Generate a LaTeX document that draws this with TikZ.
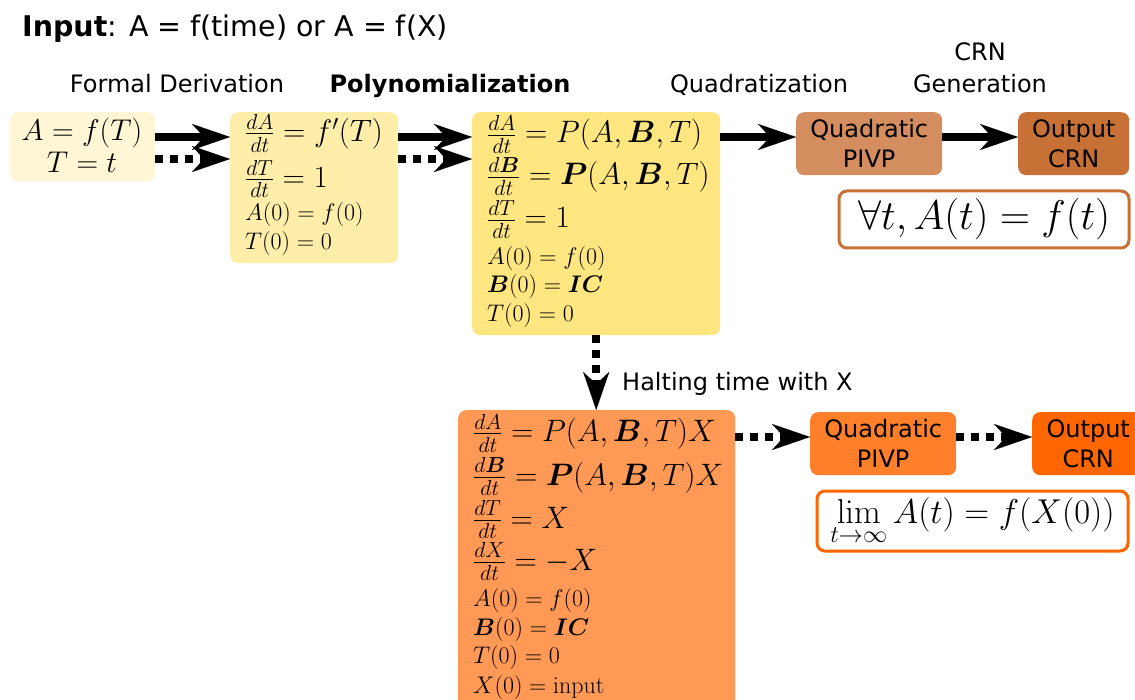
\RequirePackage{fix-cm}
\documentclass[tikz,border=0pt]{standalone}
\usepackage{amsmath,bm}
\usepackage[no-math]{fontspec}
\setmainfont{DejaVu Sans}
\usetikzlibrary{arrows.meta}
\definecolor{cA}{HTML}{FFF6D5}
\definecolor{cB}{HTML}{FFEEAA}
\definecolor{cC}{HTML}{FFE680}
\definecolor{cQ}{HTML}{D38D5F}
\definecolor{cO}{HTML}{C87137}
\definecolor{cD}{HTML}{FF9955}
\definecolor{cQb}{HTML}{FF7F2A}
\definecolor{cOb}{HTML}{FF6600}
\tikzset{
  box/.style={anchor=north west, rounded corners=8pt, inner sep=0pt},
  eq/.style={anchor=base west, inner sep=0pt, font=\fontsize{24}{28}\selectfont},
  eqf/.style={anchor=base west, inner sep=0pt, font=\fontsize{31}{36}\selectfont},
  lbl/.style={anchor=base, inner sep=0pt, font=\fontsize{24}{30}\selectfont},
  tbox/.style={rounded corners=8pt, inner sep=0pt, align=center, font=\fontsize{24}{30}\selectfont},
  fbox/.style={rounded corners=8pt, inner sep=0pt, draw, line width=3pt, fill=white},
  arr/.style={line width=8pt, -{Stealth[length=38pt,width=26pt,inset=12pt,line width=0.01pt]}},
  dotarr/.style={arr, dash pattern=on 8pt off 7pt},
}
\begin{document}
\begin{tikzpicture}[x=1pt,y=-1pt]
\useasboundingbox (0,0) rectangle (1135,700);
% titles
\node[anchor=base west, inner sep=0pt, font=\fontsize{28.5}{34}\selectfont] (title) at (22,37) {\textbf{Input}: A = f(time) or A = f(X)};
\node[lbl] (l1) at (177,93) {Formal Derivation};
\node[lbl] (l2) at (450,93) {\textbf{Polynomialization}};
\node[lbl] (l3) at (759,93) {Quadratization};
\node[lbl] (l4) at (980,61) {CRN};
\node[lbl] (l5) at (980,93) {Generation};
% box 1
\node[box, fill=cA, minimum width=145pt, minimum height=69pt] (b1) at (10,112) {};
\node[anchor=base, inner sep=0pt, font=\fontsize{30}{36}\selectfont] (b1a) at (82,140.7) {$A = f(T)$};
\node[anchor=base, inner sep=0pt, font=\fontsize{30}{36}\selectfont] (b1b) at (82,172.7) {$T = t$};
% box 2
\node[box, fill=cB, minimum width=168pt, minimum height=151pt] (b2) at (230,112) {};
\node[eqf] (b2a) at (245,141.7) {$\frac{dA}{dt} = f'(T)$};
\node[eqf] (b2b) at (245,187.3) {$\frac{dT}{dt} = 1$};
\node[eq] (b2c) at (245,220.7) {$A(0) = f(0)$};
\node[eq] (b2d) at (245,249.3) {$T(0) = 0$};
% box 3
\node[box, fill=cC, minimum width=248pt, minimum height=223pt] (b3) at (472,112) {};
\node[eqf] (b3a) at (487,143) {$\frac{dA}{dt} = P(A,\bm{B},T)$};
\node[eqf] (b3b) at (487,185) {$\frac{d\bm{B}}{dt} = \bm{P}(A,\bm{B},T)$};
\node[eqf] (b3c) at (487,228) {$\frac{dT}{dt} = 1$};
\node[eq] (b3d) at (487,265) {$A(0) = f(0)$};
\node[eq] (b3e) at (487,293) {$\bm{B}(0) = \bm{IC}$};
\node[eq] (b3f) at (487,321.7) {$T(0) = 0$};
% top right
\node[tbox, fill=cQ, minimum width=146pt, minimum height=63pt, anchor=north west] (q1) at (796,112) {Quadratic\\PIVP};
\node[tbox, fill=cO, minimum width=111pt, minimum height=63pt, anchor=north west] (o1) at (1018,112) {Output\\CRN};
\node[fbox, draw=cO, minimum width=290pt, minimum height=57pt, font=\fontsize{41.5}{48}\selectfont] (f1) at (984,219.5) {$\forall t, A(t) = f(t)$};
% box 4
\node[box, fill=cD, minimum width=277pt, minimum height=300pt] (b4) at (458,410) {};
\node[eqf] (b4a) at (473,441.7) {$\frac{dA}{dt} = P(A,\bm{B},T)X$};
\node[eqf] (b4b) at (473,485) {$\frac{d\bm{B}}{dt} = \bm{P}(A,\bm{B},T)X$};
\node[eqf] (b4c) at (473,528) {$\frac{dT}{dt} = X$};
\node[eqf] (b4d) at (473,570) {$\frac{dX}{dt} = -X$};
\node[eq] (b4e) at (473,606.7) {$A(0) = f(0)$};
\node[eq] (b4f) at (473,635) {$\bm{B}(0) = \bm{IC}$};
\node[eq] (b4g) at (473,663) {$T(0) = 0$};
\node[eq] (b4h) at (473,693) {$X(0) = \mathrm{input}$};
% bottom right
\node[tbox, fill=cQb, minimum width=146pt, minimum height=63pt, anchor=north west] (q2) at (810,412) {Quadratic\\PIVP};
\node[tbox, fill=cOb, minimum width=112pt, minimum height=63pt, anchor=north west] (o2) at (1032,412) {Output\\CRN};
\node[fbox, draw=cOb, minimum width=311pt, minimum height=60pt, font=\fontsize{34.5}{40}\selectfont] (f2) at (972.5,521) {$\displaystyle\lim_{t\to\infty} A(t) = f(X(0))$};
\node[lbl, anchor=base west] (halt) at (622,391) {Halting time with X};
% arrows
\draw[arr] (b1.east |- 0,137) -- (b2.west |- 0,137);
\draw[dotarr] (b1.east |- 0,159) -- (b2.west |- 0,159);
\draw[arr] (b2.east |- 0,137) -- (b3.west |- 0,137);
\draw[dotarr] (b2.east |- 0,159) -- (b3.west |- 0,159);
\draw[arr] (b3.east |- 0,137) -- (q1.west |- 0,137);
\draw[arr] (q1.east |- 0,137) -- (o1.west |- 0,137);
\draw[dotarr] (b3.south) -- (b3.south |- b4.north);
\draw[dotarr] (b4.east |- 0,437) -- (q2.west |- 0,437);
\draw[dotarr] (q2.east |- 0,437) -- (o2.west |- 0,437);
\end{tikzpicture}
\end{document}
